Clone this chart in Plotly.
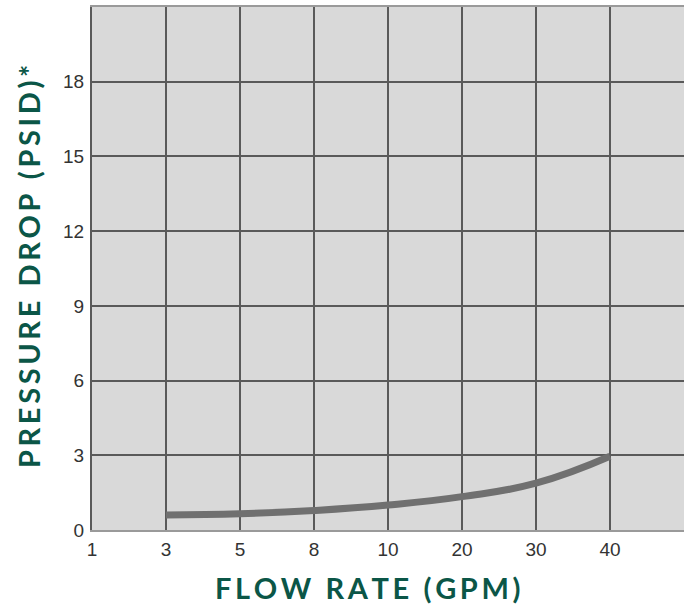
import plotly.graph_objects as go

x_labels = ["1", "3", "5", "8", "10", "20", "30", "40"]
curve_flow = ["3", "5", "8", "10", "20", "30", "40"]
curve_psid = [0.60, 0.65, 0.78, 1.0, 1.34, 1.88, 2.96]
y_ticks = [0, 3, 6, 9, 12, 15, 18]
y_ticktext = ["0", "3", "6", "9", "12", "15", "18"]
x_title = "FLOW RATE (GPM)"
y_title = "PRESSURE DROP (PSID)*"

pos = {lab: i for i, lab in enumerate(x_labels)}
cx = [pos[f] for f in curve_flow]

def spaced(s):
    return "\u2009".join(list(s))

green = "#0b5647"
title_font = dict(family="Lato, Open Sans", size=29, color=green, weight="bold")
tick_font = dict(family="Liberation Sans, Arial", size=19, color="#333333")

fig = go.Figure()
fig.add_trace(go.Scatter(
    x=cx, y=curve_psid, mode="lines",
    line=dict(color="#707070", width=7, shape="spline", smoothing=1.3),
    hoverinfo="skip", showlegend=False,
))

fig.update_layout(
    width=687, height=604,
    margin=dict(l=92, r=3, t=7, b=74),
    paper_bgcolor="white", plot_bgcolor="#d9d9d9",
    xaxis=dict(
        range=[0, 8], tickvals=list(range(len(x_labels))), ticktext=x_labels,
        showgrid=True, gridcolor="#5a5a5a", gridwidth=2,
        showline=True, linecolor="#9a9a9a", linewidth=2, mirror=True,
        zeroline=False, ticks="outside", ticklen=1, tickcolor="rgba(0,0,0,0)",
        tickfont=tick_font, automargin=False,
    ),
    yaxis=dict(
        range=[0, 21], tickvals=y_ticks, ticktext=y_ticktext,
        showgrid=True, gridcolor="#5a5a5a", gridwidth=2,
        showline=True, linecolor="#5a5a5a", linewidth=2,
        zeroline=False, ticks="outside", ticklen=2, tickcolor="rgba(0,0,0,0)",
        tickfont=tick_font, automargin=False,
    ),
    annotations=[
        dict(text=spaced(x_title), xref="paper", yref="paper",
             x=(367 - 92) / 592, y=-(588 - 531) / 523, xanchor="center", yanchor="middle",
             showarrow=False, font=title_font),
        dict(text=spaced(y_title), xref="paper", yref="paper",
             x=-(92 - 28) / 592, y=(531 - 268) / 523, xanchor="center", yanchor="middle",
             textangle=-90, showarrow=False, font=title_font),
    ],
)

fig.write_html("out.html", config={"displayModeBar": False},
               post_script="document.body.style.margin='0';document.body.style.overflow='hidden';")
